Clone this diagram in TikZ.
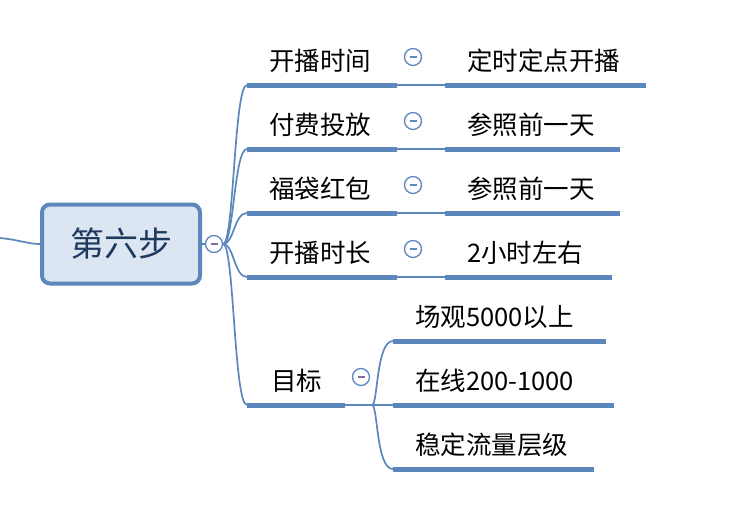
\documentclass[tikz,border=0pt]{standalone}
\usepackage{fontspec}
\setmainfont{Noto Sans CJK SC}
\definecolor{lineblue}{HTML}{5B87BD}
\definecolor{rootfill}{HTML}{DCE6F2}
\definecolor{roottext}{HTML}{1F3A60}
\definecolor{minuscol}{HTML}{8A6A9A}
\begin{document}
\begin{tikzpicture}[x=1pt,y=-1pt,
  conn/.style={draw=lineblue,line width=1.7pt},
  uline/.style={draw=lineblue,line width=5pt},
  lbl/.style={anchor=west,inner sep=0pt,font=\fontsize{25.5}{25.5}\selectfont,text=black},
  collapse/.style={circle,draw=lineblue,line width=1.3pt,fill=white,minimum size=17pt,inner sep=0pt,
    path picture={\draw[minuscol,line width=1.2pt] ([xshift=-3.5pt]path picture bounding box.center) -- ([xshift=3.5pt]path picture bounding box.center);}},
  collapseb/.style={collapse,minuscol/.style={},
    path picture={\draw[lineblue,line width=1.2pt] ([xshift=-3.5pt]path picture bounding box.center) -- ([xshift=3.5pt]path picture bounding box.center);}},
  rootbox/.style={draw=lineblue,line width=4pt,fill=rootfill,rounded corners=8pt,minimum width=158pt,minimum height=79pt,inner sep=0pt,
    font=\fontsize{34}{34}\selectfont,text=roottext}]
\useasboundingbox (0,0) rectangle (750,507);
\fill[white] (0,0) rectangle (750,507);

% incoming line
\coordinate (inL) at (0,238);
\node[rootbox] (root) at (121,244) {第六步};
\draw[conn] (inL) .. controls (20,240) and (28,244) .. (root.west);

\node[collapse] (rc) at (214,244) {};
\draw[conn] (root.east) -- (rc.west);

% children underline coordinates
\coordinate (c1a) at (247,85);  \coordinate (c1b) at (397,85);
\coordinate (c2a) at (247,149); \coordinate (c2b) at (397,149);
\coordinate (c3a) at (247,213); \coordinate (c3b) at (397,213);
\coordinate (c4a) at (247,277); \coordinate (c4b) at (397,277);
\coordinate (c5a) at (247,405); \coordinate (c5b) at (345,405);

\foreach \c/\y in {c1a/85,c2a/149,c3a/213,c4a/277,c5a/405}{
  \draw[conn] (rc.east) .. controls (234,244) and (234,\y) .. (\c);
}
\foreach \a/\b in {c1a/c1b,c2a/c2b,c3a/c3b,c4a/c4b,c5a/c5b}{
  \draw[uline] (\a) -- (\b);
}

\node[lbl] (t1) at (269,61) {开播时间};
\node[lbl] (t2) at (269,125) {付费投放};
\node[lbl] (t3) at (269,189) {福袋红包};
\node[lbl] (t4) at (269,253) {开播时长};
\node[lbl] (t5) at (271,381) {目标};

% grandchildren
\coordinate (g1a) at (445,85);  \coordinate (g1b) at (646,85);
\coordinate (g2a) at (445,149); \coordinate (g2b) at (620,149);
\coordinate (g3a) at (445,213); \coordinate (g3b) at (620,213);
\coordinate (g4a) at (445,277); \coordinate (g4b) at (612,277);
\foreach \a/\b in {c1b/g1a,c2b/g2a,c3b/g3a,c4b/g4a}{
  \draw[conn] (\a) -- (\b);
}
\foreach \a/\b in {g1a/g1b,g2a/g2b,g3a/g3b,g4a/g4b}{
  \draw[uline] (\a) -- (\b);
}
\node[collapseb] (k1) at (413,57) {};
\node[collapseb] (k2) at (413,121) {};
\node[collapseb] (k3) at (413,185) {};
\node[collapseb] (k4) at (413,249) {};

\node[lbl] (s1) at (467,61) {定时定点开播};
\node[lbl] (s2) at (467,125) {参照前一天};
\node[lbl] (s3) at (467,189) {参照前一天};
\node[lbl] (s4) at (467,253) {2小时左右};

% 目标 sub-branches
\coordinate (h0) at (372,405);
\coordinate (h1a) at (393,341); \coordinate (h1b) at (606,341);
\coordinate (h2a) at (393,405); \coordinate (h2b) at (614,405);
\coordinate (h3a) at (393,469); \coordinate (h3b) at (594,469);
\draw[conn] (c5b) -- (h0);
\draw[conn] (h0) -- (h2a);
\draw[conn] (h0) .. controls (378,405) and (376,341) .. (h1a);
\draw[conn] (h0) .. controls (378,405) and (376,469) .. (h3a);
\foreach \a/\b in {h1a/h1b,h2a/h2b,h3a/h3b}{
  \draw[uline] (\a) -- (\b);
}
\node[collapse] (k5) at (361,377) {};

\node[lbl] (u1) at (415,317) {场观5000以上};
\node[lbl] (u2) at (415,381) {在线200-1000};
\node[lbl] (u3) at (415,445) {稳定流量层级};
\end{tikzpicture}
\end{document}
